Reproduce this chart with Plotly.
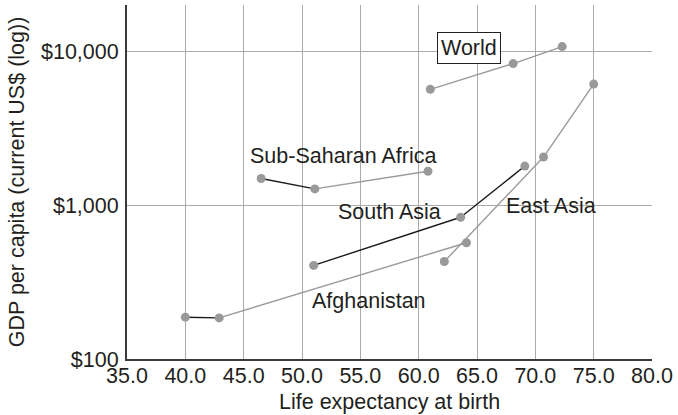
import plotly.graph_objects as go

# Life expectancy at birth (years) and GDP per capita (current US$) at three points in time
regions = ["World", "Sub-Saharan Africa", "South Asia", "East Asia", "Afghanistan"]
life_exp = {
    "World": [61.0, 68.1, 72.3],
    "Sub-Saharan Africa": [46.5, 51.1, 60.8],
    "South Asia": [51.0, 63.6, 69.1],
    "East Asia": [62.2, 70.7, 75.0],
    "Afghanistan": [40.0, 42.9, 64.1],
}
gdp_pc = {
    "World": [5660, 8320, 10730],
    "Sub-Saharan Africa": [1490, 1275, 1660],
    "South Asia": [406, 834, 1795],
    "East Asia": [430, 2055, 6120],
    "Afghanistan": [187, 185, 570],
}
# shade of each connecting segment: "dark" or "light"
segment_shade = {
    "World": ["light", "light"],
    "Sub-Saharan Africa": ["dark", "light"],
    "South Asia": ["dark", "dark"],
    "East Asia": ["light", "light"],
    "Afghanistan": ["dark", "light"],
}
x_ticks = [35, 40, 45, 50, 55, 60, 65, 70, 75, 80]
y_ticks = [100, 1000, 10000]
y_tick_text = ["$100", "$1,000", "$10,000"]

INK = "#231f20"
GRID = "#ababab"
MARK = "#999999"
SHADES = {"dark": "#1a1a1a", "light": "#9a9a9a"}
FONT = "Liberation Sans, Arial, Helvetica, sans-serif"
FS = 21.5

fig = go.Figure()

for r in regions:
    xs, ys = life_exp[r], gdp_pc[r]
    for i, shade in enumerate(segment_shade[r]):
        fig.add_trace(go.Scatter(
            x=xs[i:i + 2], y=ys[i:i + 2], mode="lines",
            line=dict(color=SHADES[shade], width=1.4),
            hoverinfo="skip", showlegend=False,
        ))

for r in regions:
    fig.add_trace(go.Scatter(
        x=life_exp[r], y=gdp_pc[r], mode="markers", name=r,
        marker=dict(color=MARK, size=9, line=dict(width=0)),
        showlegend=False,
    ))

labels = [
    ("World", 64.3, 4.02, True),
    ("Sub-Saharan Africa", 53.5, 3.317, False),
    ("South Asia", 57.54, 2.955, False),
    ("East Asia", 71.33, 2.995, False),
    ("Afghanistan", 55.7, 2.375, False),
]
for text, ax, ay, boxed in labels:
    fig.add_annotation(
        x=ax, y=ay, xref="x", yref="y", text=text, showarrow=False,
        font=dict(family=FONT, size=FS, color=INK),
        bgcolor="white" if boxed else None,
        bordercolor=INK if boxed else None,
        borderwidth=1 if boxed else 0,
        borderpad=3 if boxed else 0,
    )

# axis titles
fig.add_annotation(
    x=0.5, y=-0.121, xref="paper", yref="paper", text="Life expectancy at birth",
    showarrow=False, xanchor="center", yanchor="middle",
    font=dict(family=FONT, size=FS, color=INK),
)
fig.add_annotation(
    x=-0.209, y=0.5, xref="paper", yref="paper",
    text="GDP per capita (current US$ (log))", textangle=-90,
    showarrow=False, xanchor="center", yanchor="middle",
    font=dict(family=FONT, size=FS, color=INK),
)

fig.update_xaxes(
    range=[35, 80], tickvals=x_ticks, tickformat=".1f",
    showgrid=True, gridcolor=GRID, gridwidth=1.2,
    showline=True, linecolor="#3a3a3a", linewidth=2,
    zeroline=False, ticks="", ticklen=0, ticklabelstandoff=-4,
    tickfont=dict(family=FONT, size=FS, color=INK),
)
fig.update_yaxes(
    type="log", range=[2, 4.301], tickvals=y_ticks, ticktext=y_tick_text,
    showgrid=True, gridcolor=GRID, gridwidth=1.2,
    showline=True, linecolor="#3a3a3a", linewidth=2,
    zeroline=False, ticks="", ticklen=0, ticklabelstandoff=2,
    tickfont=dict(family=FONT, size=FS, color=INK),
)

fig.update_layout(
    width=678, height=415,
    margin=dict(l=127, r=22, t=5, b=56, pad=0),
    paper_bgcolor="white", plot_bgcolor="white",
    font=dict(family=FONT, size=FS, color=INK),
)

fig.write_html("out.html")
